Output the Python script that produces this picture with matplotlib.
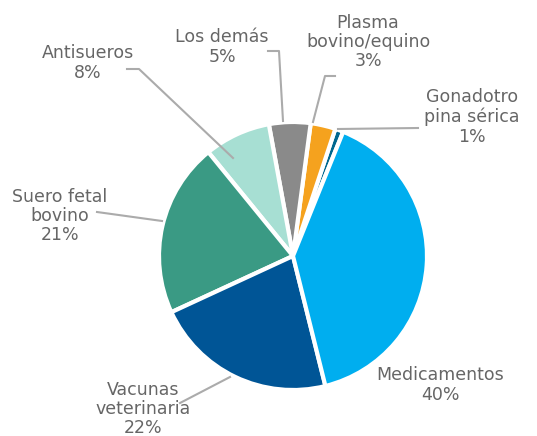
import matplotlib
matplotlib.use("Agg")
import matplotlib.pyplot as plt

labels = ["Gonadotro\npina sérica", "Plasma\nbovino/equino", "Los demás", "Antisueros",
          "Suero fetal\nbovino", "Vacunas\nveterinaria", "Medicamentos"]
values = [1, 3, 5, 8, 21, 22, 40]
colors = ["#00678F", "#F5A21E", "#8A8A8A", "#A7DFD3", "#3A9A84", "#005596", "#00AEEF"]

# label centres and leader lines, in pixel coords (y from top)
label_pos = [(472, 117), (368, 42), (222, 47), (88, 63), (60, 216), (143, 409), (440, 385)]
leaders = [
    [(418, 128), (338, 129)],
    [(335, 76), (325, 76), (313, 122)],
    [(268, 51), (279, 51), (283, 121)],
    [(127, 69), (139, 69), (233, 158)],
    [(97, 212), (162, 221)],
    [(180, 403), (230, 377)],
    None,
]

W, H = 537, 436
fig = plt.figure(figsize=(W / 100, H / 100), dpi=100)
ax = fig.add_axes([0, 0, 1, 1])
ax.set_xlim(0, W)
ax.set_ylim(0, H)
ax.set_aspect("equal")
ax.axis("off")

ax.pie(values, colors=colors, startangle=68, counterclock=True,
       center=(293, H - 256), radius=134,
       wedgeprops=dict(edgecolor="white", linewidth=3))
ax.set_xlim(0, W)
ax.set_ylim(0, H)

for lab, v, (x, y), ld in zip(labels, values, label_pos, leaders):
    if ld:
        xs = [p[0] for p in ld]
        ys = [H - p[1] for p in ld]
        ax.plot(xs, ys, color="#ABABAB", lw=1.5, zorder=1)
    ax.text(x, H - y, f"{lab}\n{v}%", ha="center", va="center", fontsize=12.5,
            color="#666666", linespacing=1.1, family="DejaVu Sans", zorder=3)

fig.savefig("out.png", dpi=100)
